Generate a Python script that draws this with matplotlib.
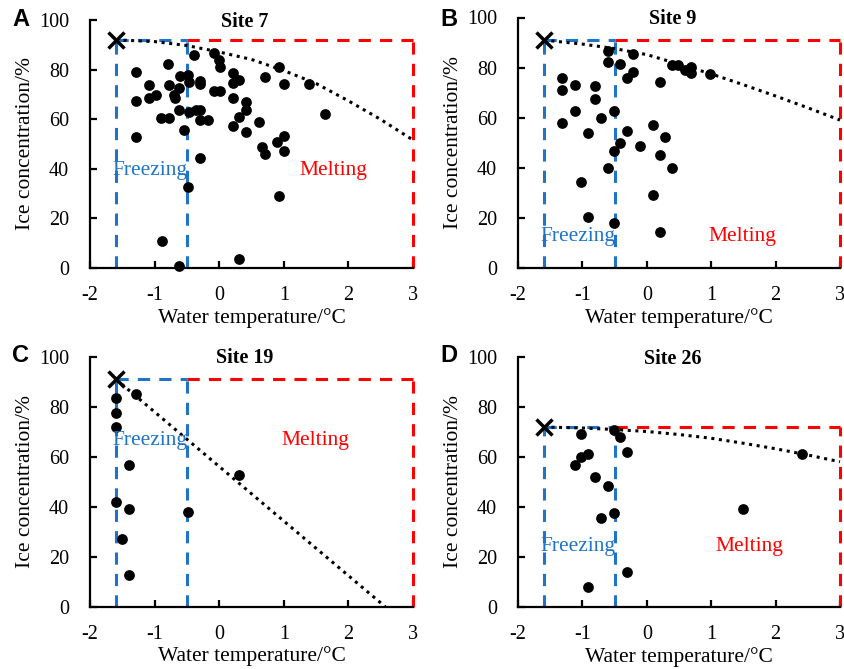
import matplotlib
matplotlib.use("Agg")
import matplotlib.pyplot as plt

plt.rcParams["axes.unicode_minus"] = False

# ---------------- data ----------------
site7_T = [-0.39, -0.08, 0.0, 0.01, 0.93, -1.29, -0.79, 0.21, 0.71, -0.60, -0.49, -0.47,
           -0.29, -0.29, -1.09, -0.78, 0.31, 0.21, 1.01, 1.39, -0.08, 0.01, -0.62, -0.70,
           -0.68, -0.98, -1.09, -1.29, 0.21, 0.41, 0.41, -0.62, -0.47, -0.36, -0.29, 0.31,
           -0.90, -0.78, -0.29, -0.18, 0.61, 0.21, 1.64, -0.54, 0.41, 1.01, -1.29, 0.90,
           0.66, 0.71, 1.01, -0.29, -0.49, 0.92, -0.89, 0.31, -0.62]
site7_C = [85.9, 86.6, 83.9, 81.2, 81.2, 79.2, 82.3, 78.5, 77.1, 77.4, 77.8, 75.1,
           75.4, 74.0, 73.8, 73.8, 75.9, 74.6, 74.2, 74.2, 71.4, 71.4, 72.4, 69.8,
           68.4, 69.8, 68.4, 67.5, 68.4, 67.0, 63.7, 63.9, 63.0, 63.7, 63.7, 61.0,
           60.4, 60.6, 59.7, 59.7, 58.7, 57.3, 62.1, 55.7, 55.0, 53.4, 53.0, 50.9,
           48.6, 45.8, 47.2, 44.2, 32.8, 29.1, 10.7, 3.7, 0.7]

site9_T = [-0.61, -0.61, -0.21, -0.41, -0.21, -0.31, 0.20, 0.39, 0.49, 0.59, 0.68, 0.68,
           0.98, -1.32, -1.32, -1.11, -0.80, -0.80, -1.11, -0.51, -0.71, -1.32, 0.09,
           -0.31, -0.91, 0.28, -0.41, -0.11, -0.51, 0.20, -0.61, 0.39, -1.02, 0.09,
           -0.91, -0.51, 0.20]
site9_C = [86.7, 82.3, 85.4, 81.3, 78.1, 75.7, 74.3, 81.0, 81.0, 79.0, 80.3, 77.7,
           77.3, 75.7, 71.0, 73.0, 72.8, 67.7, 62.8, 62.8, 60.1, 58.1, 57.3,
           54.7, 54.0, 52.5, 50.0, 48.7, 46.7, 45.1, 40.1, 39.8, 34.3, 29.2,
           20.5, 17.9, 14.6]

site19_T = [-1.59, -1.59, -1.59, -1.29, -1.39, 0.31, -1.59, -1.39, -0.49, -1.50, -1.39]
site19_C = [83.3, 77.6, 72.0, 85.1, 56.7, 52.7, 42.0, 39.1, 38.0, 27.1, 12.7]

site26_T = [-1.02, -0.51, -0.41, -0.31, -0.91, -1.02, -1.11, -0.80, -0.61, -0.51,
            -0.71, 1.49, 2.41, -0.31, -0.91]
site26_C = [69.2, 70.8, 67.9, 62.0, 61.1, 59.9, 56.8, 52.1, 48.4, 37.7,
            35.5, 39.1, 61.2, 14.1, 8.1]

# dotted reference curves
curve7_T = [-1.6, -1.0, -0.5, 0.0, 0.5, 1.0, 1.5, 2.0, 2.5, 3.0]
curve7_C = [92.0, 91.3, 89.7, 87.1, 84.1, 79.6, 74.4, 67.4, 59.9, 51.6]
curve9_T = [-1.6, -1.0, -0.5, 0.0, 0.5, 1.0, 1.5, 2.0, 2.5, 3.0]
curve9_C = [91.0, 89.4, 87.6, 85.2, 81.4, 77.5, 73.2, 68.7, 64.0, 59.1]
curve19_T = [-1.6, 2.57]
curve19_C = [91.0, 0.0]
curve26_T = [-1.6, -1.0, -0.5, 0.0, 0.5, 1.0, 1.5, 2.0, 2.5, 3.0]
curve26_C = [72.0, 71.6, 71.0, 70.2, 69.0, 67.5, 65.5, 63.3, 60.8, 58.1]

# freezing point / max concentration for each site
freeze_T = -1.6
split_T = -0.5
max_T = 3.0
max_C = [92, 91, 91, 72]

titles = ["Site 7", "Site 9", "Site 19", "Site 26"]
letters = ["A", "B", "C", "D"]
text_C = [39.5, 12.5, 66.3, 24.4]
melt_T = [1.76, 1.48, 1.49, 1.59]

xticks = [-2, -1, 0, 1, 2, 3]
yticks = [0, 20, 40, 60, 80, 100]

# ---------------- plot ----------------
W, H = 845, 669
fig = plt.figure(figsize=(W / 100, H / 100), dpi=100)

rects = [
    (90 / W, 1 - 268 / H, 323 / W, 248 / H),
    (518 / W, 1 - 268.3 / H, 322 / W, 250.8 / H),
    (90 / W, 1 - 606.7 / H, 323 / W, 250 / H),
    (518 / W, 1 - 607 / H, 322 / W, 250 / H),
]

serif = ["Liberation Serif", "DejaVu Serif"]
blue = "#1f74c8"
red = "#ff0000"

data = [
    (site7_T, site7_C, curve7_T, curve7_C),
    (site9_T, site9_C, curve9_T, curve9_C),
    (site19_T, site19_C, curve19_T, curve19_C),
    (site26_T, site26_C, curve26_T, curve26_C),
]

dash = (0, (4, 3))
for i, (rect, (T, C, cT, cC)) in enumerate(zip(rects, data)):
    ax = fig.add_axes(rect)
    ax.set_xlim(-2, 3)
    ax.set_ylim(0, 100)
    ax.set_xticks(xticks)
    ax.set_yticks(yticks)
    for s in ["top", "right"]:
        ax.spines[s].set_visible(False)
    for s in ["left", "bottom"]:
        ax.spines[s].set_linewidth(1.6)
        ax.spines[s].set_color("black")
    ax.tick_params(direction="in", length=5, width=1.6, labelsize=14.5)
    ax.tick_params(axis="x", pad=13)
    ax.tick_params(axis="y", pad=15)
    for lab in ax.get_xticklabels() + ax.get_yticklabels():
        lab.set_fontfamily(serif)

    m = max_C[i]
    # freezing box (blue)
    ax.plot([freeze_T, freeze_T], [0, m], color=blue, lw=2.2, ls=dash, clip_on=False, zorder=2)
    ax.plot([split_T, split_T], [0, m], color=blue, lw=2.2, ls=dash, clip_on=False, zorder=2)
    ax.plot([freeze_T, split_T], [m, m], color=blue, lw=2.2, ls=dash, clip_on=False, zorder=2)
    # melting box (red)
    ax.plot([split_T, max_T], [m, m], color=red, lw=2.2, ls=dash, clip_on=False, zorder=2)
    ax.plot([max_T, max_T], [0, m], color=red, lw=2.2, ls=dash, clip_on=False, zorder=2)

    # dotted curve
    ax.plot(cT, cC, color="black", lw=2.2, ls=(0, (1, 1.5)), zorder=3, clip_on=False)
    # scatter
    ax.scatter(T, C, s=60, color="black", zorder=4, clip_on=False, linewidths=0)
    # X marker
    ax.plot([freeze_T], [m], marker="x", color="black", ms=11, mew=2.5, zorder=5, clip_on=False)

    ax.text(freeze_T - 0.05, text_C[i], "Freezing", color=blue, fontsize=15.5,
            family=serif, ha="left", va="center", zorder=6)
    ax.text(melt_T[i], text_C[i], "Melting", color=red, fontsize=15.5,
            family=serif, ha="center", va="center", zorder=6)

    ax.text(0.4, 99.3, titles[i], fontsize=14.5, fontweight="bold",
            family=serif, ha="center", va="center", zorder=6)
    ax.set_xlabel("Water temperature/\u00b0C", fontsize=15.5, family=serif, labelpad=2)
    ax.set_ylabel("Ice concentration/%", fontsize=15.5, family=serif, labelpad=3)

letter_pos = [(12, 19), (440, 19), (12, 356), (440, 356)]
for (lx, ly), L in zip(letter_pos, letters):
    fig.text(lx / W, 1 - ly / H, L, fontsize=17, fontweight="bold",
             family=["Liberation Sans", "DejaVu Sans"], ha="left", va="center")

fig.savefig("out.png", dpi=100)
